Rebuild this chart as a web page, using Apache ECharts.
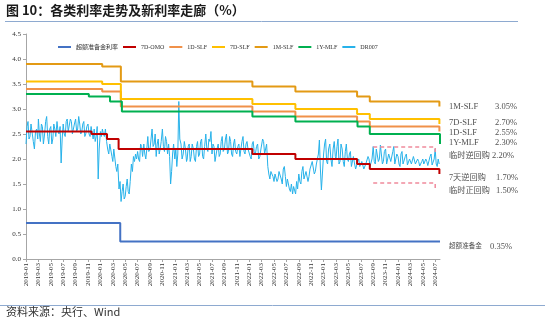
<!DOCTYPE html>
<html><head><meta charset="utf-8">
<script src="https://cdn.jsdelivr.net/npm/echarts@6/dist/echarts.min.js"></script>
<style>html,body{margin:0;padding:0;background:#fff}#c{width:550px;height:321px}</style>
</head><body><div id="c"></div>
<script>
// ---------- data ----------
const xTickLabels = ['2019-01','2019-03','2019-05','2019-07','2019-09','2019-11',
  '2020-01','2020-03','2020-05','2020-07','2020-09','2020-11',
  '2021-01','2021-03','2021-05','2021-07','2021-09','2021-11',
  '2022-01','2022-03','2022-05','2022-07','2022-09','2022-11',
  '2023-01','2023-03','2023-05','2023-07','2023-09','2023-11',
  '2024-01','2024-03','2024-05','2024-07'];
const endDate = '2024-07-25';

const iorDates = ['2019-01-01','2020-04-07'];
const iorValues = [0.72, 0.35];

const omoDates = ['2019-01-01','2019-11-18','2020-02-03','2020-03-30','2022-01-17','2022-08-15','2023-06-13','2023-08-15','2024-07-22'];
const omoValues = [2.55, 2.50, 2.40, 2.20, 2.10, 2.00, 1.90, 1.80, 1.70];

const slfDates = ['2019-01-01','2020-01-10','2020-04-10','2022-01-17','2022-08-15','2023-06-13','2023-08-15','2024-07-22'];
const slf1dValues = [3.40, 3.35, 3.05, 2.95, 2.85, 2.75, 2.65, 2.55];
const slf7dValues = [3.55, 3.50, 3.20, 3.10, 3.00, 2.90, 2.80, 2.70];
const slf1mValues = [3.90, 3.85, 3.55, 3.45, 3.35, 3.25, 3.15, 3.05];

const mlfDates = ['2019-01-01','2019-11-05','2020-02-17','2020-04-15','2022-01-17','2022-08-15','2023-06-15','2023-08-15','2024-07-25'];
const mlfValues = [3.30, 3.25, 3.15, 2.95, 2.85, 2.75, 2.65, 2.50, 2.30];

const upperDates = ['2023-09-01','2024-07-01'];
const upperValues = [2.24, 2.12];
const lowerDates = ['2023-09-01','2024-07-01'];
const lowerValues = [1.52, 1.39];

// DR007, sampled on days 1, 6, 11, 16, 21, 26 of each month
const drDays = [1, 6, 11, 16, 21, 26];
const dr2019 = [2.3,2.65,2.75,2.4,2.45,2.7, 2.7,2.35,2.2,2.55,2.6,2.4, 2.8,2.5,2.35,2.7,2.65,2.3, 2.5,2.75,2.85,2.45,2.3,2.6,
  2.65,2.3,2.4,2.7,2.6,2.45, 2.75,2.55,2.5,2.65,1.92,2.4, 2.7,2.5,2.45,2.75,2.8,2.55, 2.55,2.8,2.75,2.5,2.5,2.7,
  2.8,2.55,2.6,2.85,2.7,2.5, 2.55,2.7,2.75,2.45,2.5,2.65, 2.7,2.5,2.45,2.65,2.65,2.4, 2.6,2.35,2.45,2.65,1.6,2.2];
const dr2020 = [2.55,2.45,2.6,2.5,2.45,2.6, 2.35,2.2,2.1,2.3,2.3,2.05, 1.95,2.2,2.2,1.85,1.75,1.9, 1.4,1.55,1.15,1.35,1.5,1.2,
  1.25,1.45,1.6,1.35,1.3,1.55, 1.9,1.75,2.05,1.95,2.1,2.0, 2.15,2.0,1.95,2.3,2.25,2.05, 2.3,2.1,2.0,2.2,2.45,2.15,
  2.2,2.4,2.6,2.25,2.3,2.5, 2.05,2.3,2.4,2.1,2.2,2.35, 2.6,2.25,2.15,2.45,2.35,2.1, 2.3,2.05,1.5,1.75,2.1,2.3];
const dr2021 = [2.0,2.2,1.85,2.1,3.15,2.4, 2.3,2.0,2.1,2.35,2.2,1.95, 2.0,2.25,2.3,1.95,2.05,2.3, 2.2,2.0,1.95,2.25,2.35,2.05,
  2.1,2.35,2.4,2.05,2.0,2.25, 2.5,2.2,2.15,2.4,2.35,2.55, 2.1,2.3,2.25,1.95,1.95,2.2, 2.3,2.05,2.1,2.35,2.45,2.15,
  2.2,2.4,2.5,2.1,2.15,2.45, 2.35,2.1,2.05,2.3,2.4,2.15, 2.1,2.25,2.3,2.05,2.2,2.35, 2.45,2.15,2.1,2.3,2.35,2.2];
const dr2022 = [2.2,2.05,2.0,2.3,2.35,2.15, 2.1,2.25,2.3,2.0,2.05,2.2, 2.2,2.4,2.35,2.1,2.1,2.3, 1.85,1.7,1.6,1.75,1.75,1.65,
  1.55,1.7,1.7,1.55,1.6,1.75, 1.75,1.6,1.5,1.8,1.85,1.65, 1.45,1.6,1.6,1.4,1.35,1.5, 1.3,1.45,1.45,1.3,1.55,1.4,
  1.7,1.55,1.5,1.75,1.85,1.6, 1.6,1.75,1.75,1.55,1.65,1.8, 1.8,1.95,1.95,1.7,1.75,1.9, 1.9,2.1,2.38,1.8,1.38,1.7];
const dr2023 = [2.1,2.3,2.4,1.95,1.9,2.2, 2.3,2.0,1.85,2.2,2.35,2.05, 2.0,2.25,2.4,1.9,1.95,2.3, 2.2,1.95,1.85,2.15,2.3,2.0,
  1.95,2.1,2.15,1.85,1.85,2.05, 1.9,1.8,1.8,1.95,2.0,1.85, 1.85,1.95,1.95,1.8,1.8,1.9, 1.9,2.05,2.0,1.85,1.85,2.0,
  2.25,1.95,1.9,2.2,2.2,1.95, 2.0,2.28,2.28,1.9,1.95,2.15, 2.2,1.9,1.9,2.1,2.1,1.95, 1.95,2.15,2.25,1.9,1.9,2.1];
const dr2024 = [2.05,1.9,1.85,2.1,2.15,1.9, 1.9,2.05,2.1,1.88,1.88,2.0, 2.0,1.9,1.87,2.05,2.05,1.9, 1.9,2.0,1.95,1.86,1.86,1.95,
  2.0,1.9,1.88,2.0,1.95,1.87, 1.9,2.05,2.1,1.88,1.85,2.0, 2.2,1.9,1.85,2.0,1.9];
const drYears = [2019, 2020, 2021, 2022, 2023, 2024];

const annoNames = ['1M-SLF','7D-SLF','1D-SLF','1Y-MLF','临时逆回购','7天逆回购','临时正回购','超额准备金'];
const annoValues = [3.05, 2.70, 2.55, 2.30, 2.20, 1.70, 1.50, 0.35];

// ---------- helpers ----------
function mIdx(s) {
  const p = s.split('-').map(Number);
  const y = p[0], m = p[1], d = p[2] || 1;
  const dim = new Date(y, m, 0).getDate();
  return (y - 2019) * 12 + (m - 1) + (d - 1) / dim;
}
const mEnd = mIdx(endDate);
function stepData(dates, vals, extend) {
  const a = dates.map((d, i) => [mIdx(d), vals[i]]);
  if (extend) a.push([mEnd, vals[vals.length - 1]]);
  return a;
}
const nD = drDays.length;
const drData = [];
[dr2019, dr2020, dr2021, dr2022, dr2023, dr2024].forEach((arr, yi) => {
  arr.forEach((v, k) => {
    const mo = Math.floor(k / nD) + 1;
    const ds = drYears[yi] + '-' + String(mo).padStart(2, '0') + '-' + drDays[k % nD];
    drData.push([mIdx(ds), v]);
  });
});
const tickVals = xTickLabels.map(l => mIdx(l + '-01'));
const tickMap = {};
xTickLabels.forEach((l, i) => { tickMap[tickVals[i].toFixed(3)] = l; });

// label styling (presentation only)
const annoDy = [0, -1, 1.5, -1, 7, 4, 7, 5];
const annoNameW = [46, 46, 46, 46, 43, 47, 47, 41];
const annoNameFs = [8.5, 8.5, 8.5, 8.5, 8.2, 8.2, 8.2, 6.6];

const SERIF = 'Liberation Serif, Noto Sans CJK SC';
const colors = {
  ior: '#4472C4', omo: '#C00000', d1: '#F0914A', d7: '#FFC000', m1: '#E39A14', mlf: '#00B050', dr: '#27B2EA', pink: '#F08A9C'
};

function stepSeries(name, data, color) {
  return { name, type: 'line', step: 'end', data, symbol: 'none', z: 3,
    lineStyle: { color, width: 2 }, itemStyle: { color }, emphasis: { disabled: true } };
}

const chart = echarts.init(document.getElementById('c'), null, { renderer: 'canvas' });
chart.setOption({
  animation: false,
  backgroundColor: '#fff',
  textStyle: { fontFamily: SERIF },
  grid: { left: 26, right: 110, top: 34, bottom: 62 },
  legend: {
    left: 53, top: 39, itemWidth: 13, itemHeight: 2, itemGap: 5, icon: 'rect',
    textStyle: { fontSize: 6, color: '#333', fontFamily: SERIF },
    data: ['超额准备金利率','7D-OMO','1D-SLF','7D-SLF','1M-SLF','1Y-MLF','DR007']
  },
  xAxis: {
    type: 'value', min: 0, max: mEnd,
    axisLine: { lineStyle: { color: '#A6A6A6' } },
    axisTick: { show: true, length: 3, customValues: tickVals, lineStyle: { color: '#A6A6A6' } },
    axisLabel: {
      customValues: tickVals, rotate: 90, fontSize: 7, color: '#333', margin: 4,
      fontFamily: SERIF,
      formatter: v => tickMap[v.toFixed(3)] || ''
    },
    splitLine: { show: false }
  },
  yAxis: {
    type: 'value', min: 0, max: 4.5, interval: 0.5,
    axisLine: { show: true, lineStyle: { color: '#A6A6A6' } },
    axisTick: { show: true, length: 3, lineStyle: { color: '#A6A6A6' } },
    axisLabel: { fontSize: 7, color: '#333', margin: 5, fontFamily: SERIF, formatter: v => v.toFixed(1) },
    splitLine: { show: false }
  },
  series: [
    stepSeries('超额准备金利率', stepData(iorDates, iorValues, true), colors.ior),
    stepSeries('7D-OMO', stepData(omoDates, omoValues, true), colors.omo),
    stepSeries('1D-SLF', stepData(slfDates, slf1dValues, true), colors.d1),
    stepSeries('7D-SLF', stepData(slfDates, slf7dValues, true), colors.d7),
    stepSeries('1M-SLF', stepData(slfDates, slf1mValues, true), colors.m1),
    stepSeries('1Y-MLF', stepData(mlfDates, mlfValues, true), colors.mlf),
    { name: 'DR007', type: 'line', data: drData, symbol: 'none', z: 2,
      lineStyle: { color: colors.dr, width: 1 }, itemStyle: { color: colors.dr }, emphasis: { disabled: true } },
    { name: 'upper', type: 'line', step: 'end', data: stepData(upperDates, upperValues, false), symbol: 'none', z: 3,
      lineStyle: { color: colors.pink, width: 1.5, type: [4, 3] }, emphasis: { disabled: true } },
    { name: 'lower', type: 'line', step: 'end', data: stepData(lowerDates, lowerValues, false), symbol: 'none', z: 3,
      lineStyle: { color: colors.pink, width: 1.5, type: [4, 3] }, emphasis: { disabled: true } },
    { name: 'anno', type: 'scatter', symbolSize: 0, z: 5, silent: true,
      data: annoNames.map((n, i) => ({
        value: [mEnd, annoValues[i]],
        label: {
          show: true, position: 'right', distance: 9, offset: [0, annoDy[i]],
          formatter: '{n|' + n + '}{v|' + annoValues[i].toFixed(2) + '%}',
          rich: {
            n: { width: annoNameW[i], fontSize: annoNameFs[i], color: '#222', fontFamily: SERIF },
            v: { fontSize: 8.5, color: '#222', fontFamily: SERIF }
          }
        }
      }))
    }
  ],
  graphic: [
    { type: 'text', left: 6, top: 4, style: { text: '图 10：各类利率走势及新利率走廊（%）', fontSize: 13, fontWeight: 'bold', fill: '#1a1a1a', fontFamily: 'Noto Sans CJK SC' } },
    { type: 'line', shape: { x1: 5, y1: 21.5, x2: 518, y2: 21.5 }, style: { stroke: '#8EAAD0', lineWidth: 1 } },
    { type: 'line', shape: { x1: 0, y1: 305.5, x2: 545, y2: 305.5 }, style: { stroke: '#8EAAD0', lineWidth: 1 } },
    { type: 'text', left: 6, top: 306, style: { text: '资料来源：央行、Wind', fontSize: 11, fill: '#333', fontFamily: 'Noto Sans CJK SC' } }
  ]
});
</script>
</body></html>
